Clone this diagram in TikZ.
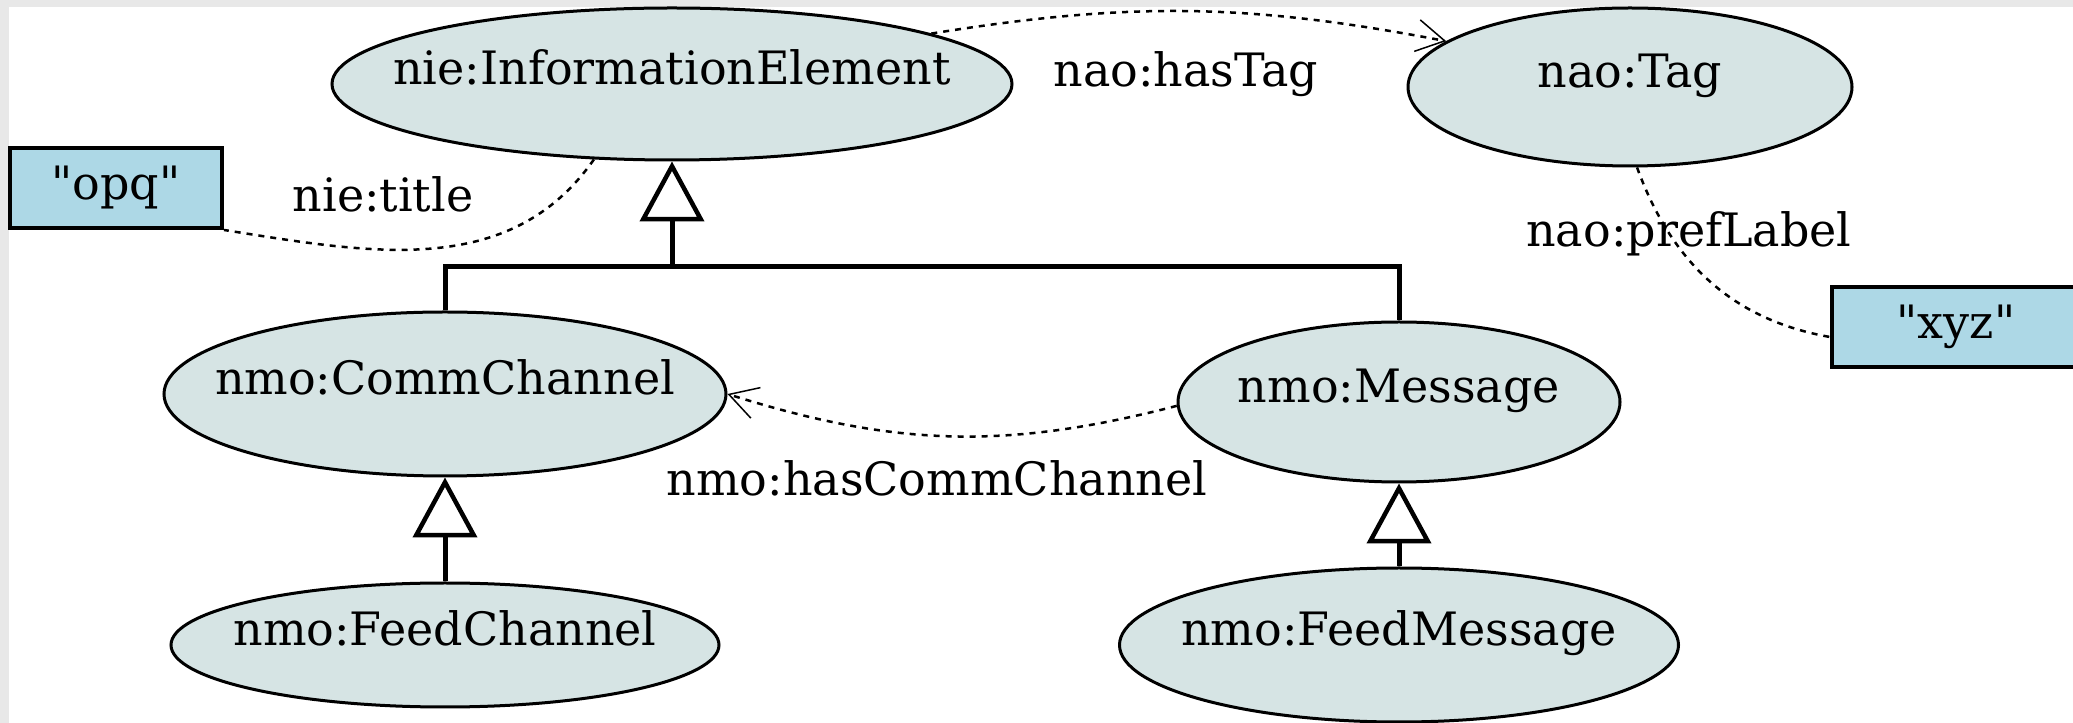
\documentclass[tikz,border=0pt]{standalone}
\usepackage{fontspec}
\setmainfont{DejaVu Serif}[Ligatures=TeXOff]
\usetikzlibrary{shapes.geometric,arrows.meta}
\definecolor{clsfill}{RGB}{214,228,228}
\definecolor{litfill}{RGB}{173,216,230}
\definecolor{framegray}{RGB}{232,232,232}
\newcommand{\ctext}[1]{\makebox[0pt]{#1}}
\begin{document}
\begin{tikzpicture}[x=1pt,y=1pt,
        font=\fontsize{46}{50}\selectfont,
        cls/.style={ellipse,draw,line width=3pt,fill=clsfill,inner sep=0pt,text height=0.75em,text depth=0.55em},
        lit/.style={rectangle,draw,line width=4pt,fill=litfill,inner sep=0pt,minimum height=80pt},
        rel/.style={line width=2.5pt,dash pattern=on 6pt off 6pt,-{Straight Barb[length=28pt,width=32pt,line width=1.5pt]}},
        sub/.style={line width=5pt,-{Triangle[open,length=60pt,width=64pt,line width=4.5pt]}},
        lbl/.style={inner sep=0pt,text height=0.75em,text depth=0.25em}]
    \fill[framegray] (0,0) rectangle (2073,723);
    \fill[white] (9,0) rectangle (2073,716);
    \useasboundingbox (0,0) rectangle (2073,723);

    \node[cls,minimum width=680pt,minimum height=152pt] (IE) at (672,639) {\ctext{nie:InformationElement}};
    \node[cls,minimum width=444pt,minimum height=158pt] (Tag) at (1630,636) {\ctext{nao:Tag}};
    \node[cls,minimum width=562pt,minimum height=164pt] (Comm) at (445,329) {\ctext{nmo:CommChannel}};
    \node[cls,minimum width=442pt,minimum height=160pt] (Msg) at (1399,321) {\ctext{nmo:Message}};
    \node[cls,minimum width=548pt,minimum height=124pt] (FeedCh) at (445,78) {\ctext{nmo:FeedChannel}};
    \node[cls,minimum width=559pt,minimum height=154pt] (FeedMsg) at (1399,78) {\ctext{nmo:FeedMessage}};
    \node[lit,minimum width=212pt] (opq) at (116,535) {"opq"};
    \node[lit,minimum width=248pt] (xyz) at (1956,396) {"xyz"};

    \coordinate (bar) at (672,456);
    \draw[line width=5pt] (Comm.north) |- (bar) -| (Msg.north);
    \draw[sub] (bar) -- (IE.south);
    \draw[sub] (FeedCh.north) -- (Comm.south);
    \draw[sub] (FeedMsg.north) -- (Msg.south);

    \draw[rel] (IE.11) to[bend left=10] (Tag.166);
    \draw[rel,-] (IE.224) to[out=235,in=-9] (opq.south east);
    \draw[rel,-] (Tag.-85) to[out=-70,in=170] ([yshift=-10pt]xyz.west);
    \draw[rel] (Msg.181) to[bend left=16] (Comm.east);

    \node[lbl] (titleLbl) at (383,514) {nie:title};
    \node[lbl] (hasTagLbl) at (1186,639) {nao:hasTag};
    \node[lbl] (prefLbl) at (1689,479) {nao:prefLabel};
    \node[lbl] (commLbl) at (937,230) {nmo:hasCommChannel};
\end{tikzpicture}
\end{document}
